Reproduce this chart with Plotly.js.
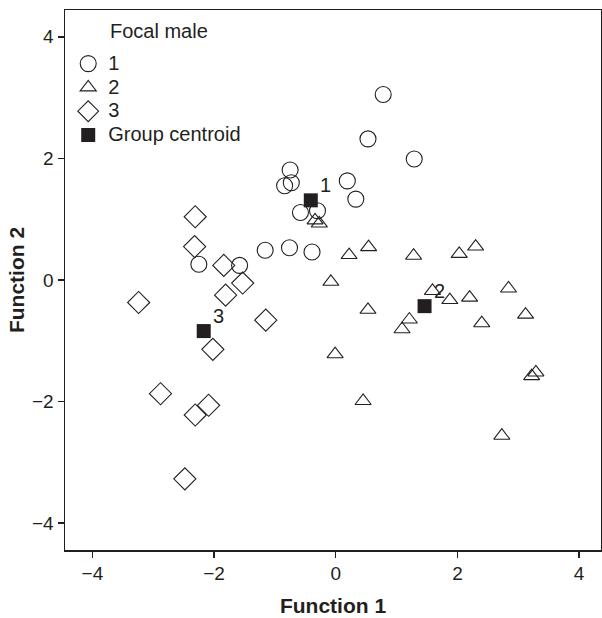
<!DOCTYPE html>
<html>
<head>
<meta charset="utf-8">
<script src="https://cdn.plot.ly/plotly-3.0.1.min.js"></script>
<style>html,body{margin:0;padding:0;background:#fff;}#chart{width:602px;height:618px;}</style>
</head>
<body>
<div id="chart"></div>
<script>
// Group 1 (circles)
const g1x = [0.78, 0.53, 1.29, -0.75, -0.84, -0.73, 0.19, 0.33, -0.58, -0.30, -1.16, -0.76, -0.39, -2.25, -1.58];
const g1y = [3.05, 2.32, 1.99, 1.81, 1.55, 1.60, 1.63, 1.33, 1.11, 1.14, 0.49, 0.53, 0.46, 0.26, 0.24];
// Group 2 (triangles)
const g2x = [-0.34, -0.27, 0.22, 0.54, 1.28, 2.03, 2.30, -0.08, 1.59, 1.875, 2.20, 2.84, 0.53, 3.12, 1.21, 1.09, 2.40, -0.01, 3.29, 3.22, 0.45, 2.73];
const g2y = [0.98, 0.93, 0.41, 0.54, 0.40, 0.43, 0.55, -0.03, -0.18, -0.33, -0.29, -0.14, -0.49, -0.57, -0.65, -0.81, -0.71, -1.22, -1.52, -1.58, -1.99, -2.56];
// Group 3 (diamonds)
const g3x = [-1.84, -1.53, -1.81, -3.24, -1.15, -2.02, -2.88, -2.09, -2.31, -2.48, -2.31, -2.32];
const g3y = [0.24, -0.05, -0.25, -0.37, -0.66, -1.14, -1.87, -2.06, -2.22, -3.27, 1.04, 0.55];
// Group centroids
const cx = [-0.41, 1.46, -2.17];
const cy = [1.31, -0.43, -0.84];
const cLabels = ['1', '2', '3'];
const legendNames = ['1', '2', '3', 'Group centroid'];
const legendTitle = 'Focal male';
const xTicks = [-4, -2, 0, 2, 4];
const yTicks = [-4, -2, 0, 2, 4];

const ink = '#231f20';
const font = 'Liberation Sans, Arial, sans-serif';
const big = s => '<span style="font-size:20px">' + s + '</span>';

const traces = [
  {x: g1x, y: g1y, type: 'scatter', mode: 'markers', name: big(legendNames[0]),
   marker: {symbol: 'circle-open', size: 16, color: ink, line: {width: 1.1, color: ink}}},
  {x: g2x, y: g2y, type: 'scatter', mode: 'markers', name: big(legendNames[1]),
   marker: {symbol: 'triangle-up-open', size: 14, color: ink, line: {width: 1.1, color: ink}}},
  {x: g3x, y: g3y, type: 'scatter', mode: 'markers', name: big(legendNames[2]),
   marker: {symbol: 'diamond-open', size: 17, color: ink, line: {width: 1.1, color: ink}}},
  {x: cx, y: cy, type: 'scatter', mode: 'markers', name: big(legendNames[3]),
   marker: {symbol: 'square', size: 14, color: ink, line: {width: 0}}}
];

const annotations = cx.map((v, i) => ({
  x: v, y: cy[i], xref: 'x', yref: 'y', text: cLabels[i], showarrow: false,
  xshift: 15, yshift: 15, font: {family: font, size: 20, color: ink}
}));
annotations.push({
  xref: 'paper', yref: 'paper', x: 0.081, y: 0.985, xanchor: 'left', yanchor: 'top',
  text: legendTitle, showarrow: false, font: {family: font, size: 20, color: ink}
});

const axisCommon = {
  showline: true, linecolor: ink, linewidth: 1.5, mirror: true,
  ticks: 'outside', ticklen: 6, tickwidth: 1.5, tickcolor: ink,
  showgrid: false, zeroline: false, tickmode: 'array',
  tickfont: {family: font, size: 19, color: ink}
};
const fmt = v => v === 0 ? '0' : (v < 0 ? '\u2212' + Math.abs(v) : String(v));

const layout = {
  width: 602, height: 618,
  margin: {l: 65, r: 1, t: 10, b: 68},
  paper_bgcolor: '#fff', plot_bgcolor: '#fff',
  font: {family: font, color: ink},
  showlegend: true,
  legend: {x: 0.006, y: 0.932, xanchor: 'left', yanchor: 'top',
           bgcolor: 'rgba(0,0,0,0)', font: {family: font, size: 16, color: ink},
           tracegroupgap: 0, itemsizing: 'trace'},
  xaxis: Object.assign({}, axisCommon, {
    range: [-4.45, 4.36], tickvals: xTicks, ticktext: xTicks.map(fmt),
    title: {text: '<b>Function 1</b>', font: {family: font, size: 21, color: ink}, standoff: 15}
  }),
  yaxis: Object.assign({}, axisCommon, {
    range: [-4.44, 4.44], tickvals: yTicks, ticktext: yTicks.map(fmt),
    title: {text: '<b>Function 2</b>', font: {family: font, size: 21, color: ink}, standoff: 1}
  }),
  annotations: annotations
};

Plotly.newPlot('chart', traces, layout, {displayModeBar: false, staticPlot: true});
</script>
</body>
</html>
